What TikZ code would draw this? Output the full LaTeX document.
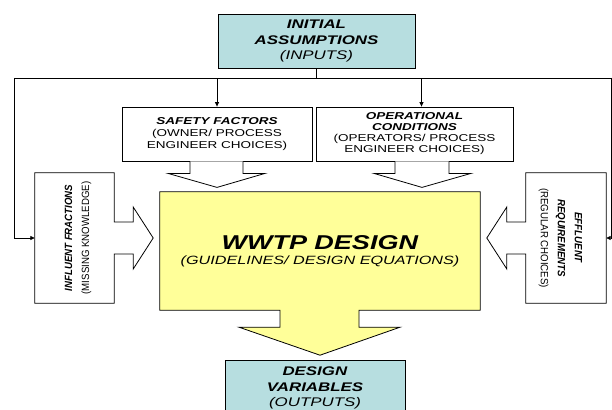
\documentclass[tikz,border=0pt]{standalone}
\usepackage{fontspec}
\setmainfont{Liberation Sans}[FakeStretch=1.35]
\newfontfamily\sidefont{Liberation Sans}[FakeStretch=0.92]
\usepackage{tikz}
\usetikzlibrary{arrows.meta,calc,backgrounds}
\definecolor{aqua}{HTML}{B7DEE0}
\definecolor{lemon}{HTML}{FFFF99}
\tikzset{
  box_aqua/.style={draw=black,fill=aqua,line width=0.8pt,minimum width=197pt,minimum height=54pt,
    inner sep=0pt,align=center,font=\fontsize{12.5}{15.5}\selectfont},
  box_white/.style={draw=black,fill=white,line width=0.8pt,minimum height=54pt,
    inner sep=0pt,align=center,font=\fontsize{10}{12}\selectfont},
  side_box/.style={minimum width=80pt,minimum height=130pt,inner sep=0pt},
  side_txt/.style={font=\sidefont\fontsize{10.5}{17}\selectfont,align=center,inner sep=0pt},
  block_arr/.style={draw=black,line width=0.8pt,fill=white,line join=miter},
  wire/.style={draw=black,line width=0.8pt},
  arr/.style={-{Triangle[length=4.5pt,width=4pt]},draw=black,line width=0.8pt},
}

\begin{document}
\begin{tikzpicture}[x=1pt,y=-1pt]
  \useasboundingbox (0,0) rectangle (612,409);

  % inputs and the two choice boxes
  \node[box_aqua] (init) at (316.5,41) {\textit{\textbf{INITIAL}}\\\textit{\textbf{ASSUMPTIONS}}\\\textit{(INPUTS)}};
  \node[box_white,minimum width=190pt] (safety) at (217,134)
    {\textit{\textbf{SAFETY FACTORS}}\\(OWNER/ PROCESS\\ENGINEER CHOICES)};
  \node[box_white,minimum width=197pt,font=\fontsize{10}{11}\selectfont] (oper) at (414.5,134)
    {\textit{\textbf{OPERATIONAL}}\\\textit{\textbf{CONDITIONS}}\\(OPERATORS/ PROCESS\\ENGINEER CHOICES)};

  % side boxes, text turned
  \node[side_box,minimum width=79pt] (infl) at (74.5,238) {};
  \node[side_txt,rotate=90] (infl_txt) at (78,238) {\textit{\textbf{INFLUENT FRACTIONS}}\\(MISSING KNOWLEDGE)};
  \node[side_box] (effl) at (566,238) {};
  \node[side_txt,rotate=-90] (effl_txt) at (560.5,238) {\textit{\textbf{EFFLUENT}}\\\textit{\textbf{REQUIREMENTS}}\\(REGULAR CHOICES)};

  % centre block and outputs
  \node[minimum width=320pt,minimum height=118pt,inner sep=0pt,align=center,font=\fontsize{12}{15}\selectfont] (design) at (320,251)
    {{\fontsize{20}{22}\selectfont\textit{\textbf{WWTP DESIGN}}}\\\textit{(GUIDELINES/ DESIGN EQUATIONS)}};
  \node[box_aqua,minimum width=180pt,minimum height=56pt] (outputs) at (315,388)
    {\textit{\textbf{DESIGN}}\\\textit{\textbf{VARIABLES}}\\\textit{(OUTPUTS)}};

  \begin{scope}[on background layer]
    \draw[block_arr,fill=lemon] (design.north west) -- (design.north east) -- (design.south east)
      -- ($(design.south)+(39,0)$) -- ($(design.south)+(39,17)$) -- ($(design.south)+(80,17)$)
      -- ($(design.south)+(0,45)$) -- ($(design.south)+(-81,17)$) -- ($(design.south)+(-40,17)$)
      -- ($(design.south)+(-40,0)$) -- (design.south west) -- cycle;
    \draw[block_arr] (infl.north west) -- (infl.north east) -- ($(infl.east)+(0,-16)$)
      -- ($(infl.east)+(19,-16)$) -- ($(infl.east)+(19,-31)$) -- ($(infl.east)+(39,0)$)
      -- ($(infl.east)+(19,31)$) -- ($(infl.east)+(19,16)$) -- ($(infl.east)+(0,16)$)
      -- (infl.south east) -- (infl.south west) -- cycle;
    \draw[block_arr] (effl.north east) -- (effl.north west) -- ($(effl.west)+(0,-16)$)
      -- ($(effl.west)+(-19,-16)$) -- ($(effl.west)+(-19,-31)$) -- ($(effl.west)+(-39,0)$)
      -- ($(effl.west)+(-19,31)$) -- ($(effl.west)+(-19,16)$) -- ($(effl.west)+(0,16)$)
      -- (effl.south west) -- (effl.south east) -- cycle;
  \end{scope}

  % block arrows under the choice boxes
  \draw[block_arr] ($(safety.south)+(-27,0)$) -- ($(safety.south)+(-27,12)$) -- ($(safety.south)+(-49,12)$)
    -- ($(safety.south)+(0,26)$) -- ($(safety.south)+(48,12)$) -- ($(safety.south)+(26,12)$)
    -- ($(safety.south)+(26,0)$);
  \draw[block_arr] ($(oper.south)+(-19.5,0)$) -- ($(oper.south)+(-19.5,12)$) -- ($(oper.south)+(-40.5,12)$)
    -- ($(oper.south)+(7.5,26)$) -- ($(oper.south)+(56.5,12)$) -- ($(oper.south)+(34.5,12)$)
    -- ($(oper.south)+(34.5,0)$);

  % distribution lines
  \coordinate (bus) at ($(init.south)+(0,10)$);
  \coordinate (busL) at (14,78);
  \coordinate (busR) at (611,78);
  \coordinate (oper_in) at ($(oper.north)+(7,0)$);
  \draw[wire] (init.south) -- (bus);
  \draw[wire] (busL) -- (busR);
  \draw[arr] (busL) |- (infl.west);
  \draw[arr] (busR) |- (effl.east);
  \draw[arr] (safety.north |- bus) -- (safety.north);
  \draw[arr] (oper_in |- bus) -- (oper_in);
\end{tikzpicture}
\end{document}
